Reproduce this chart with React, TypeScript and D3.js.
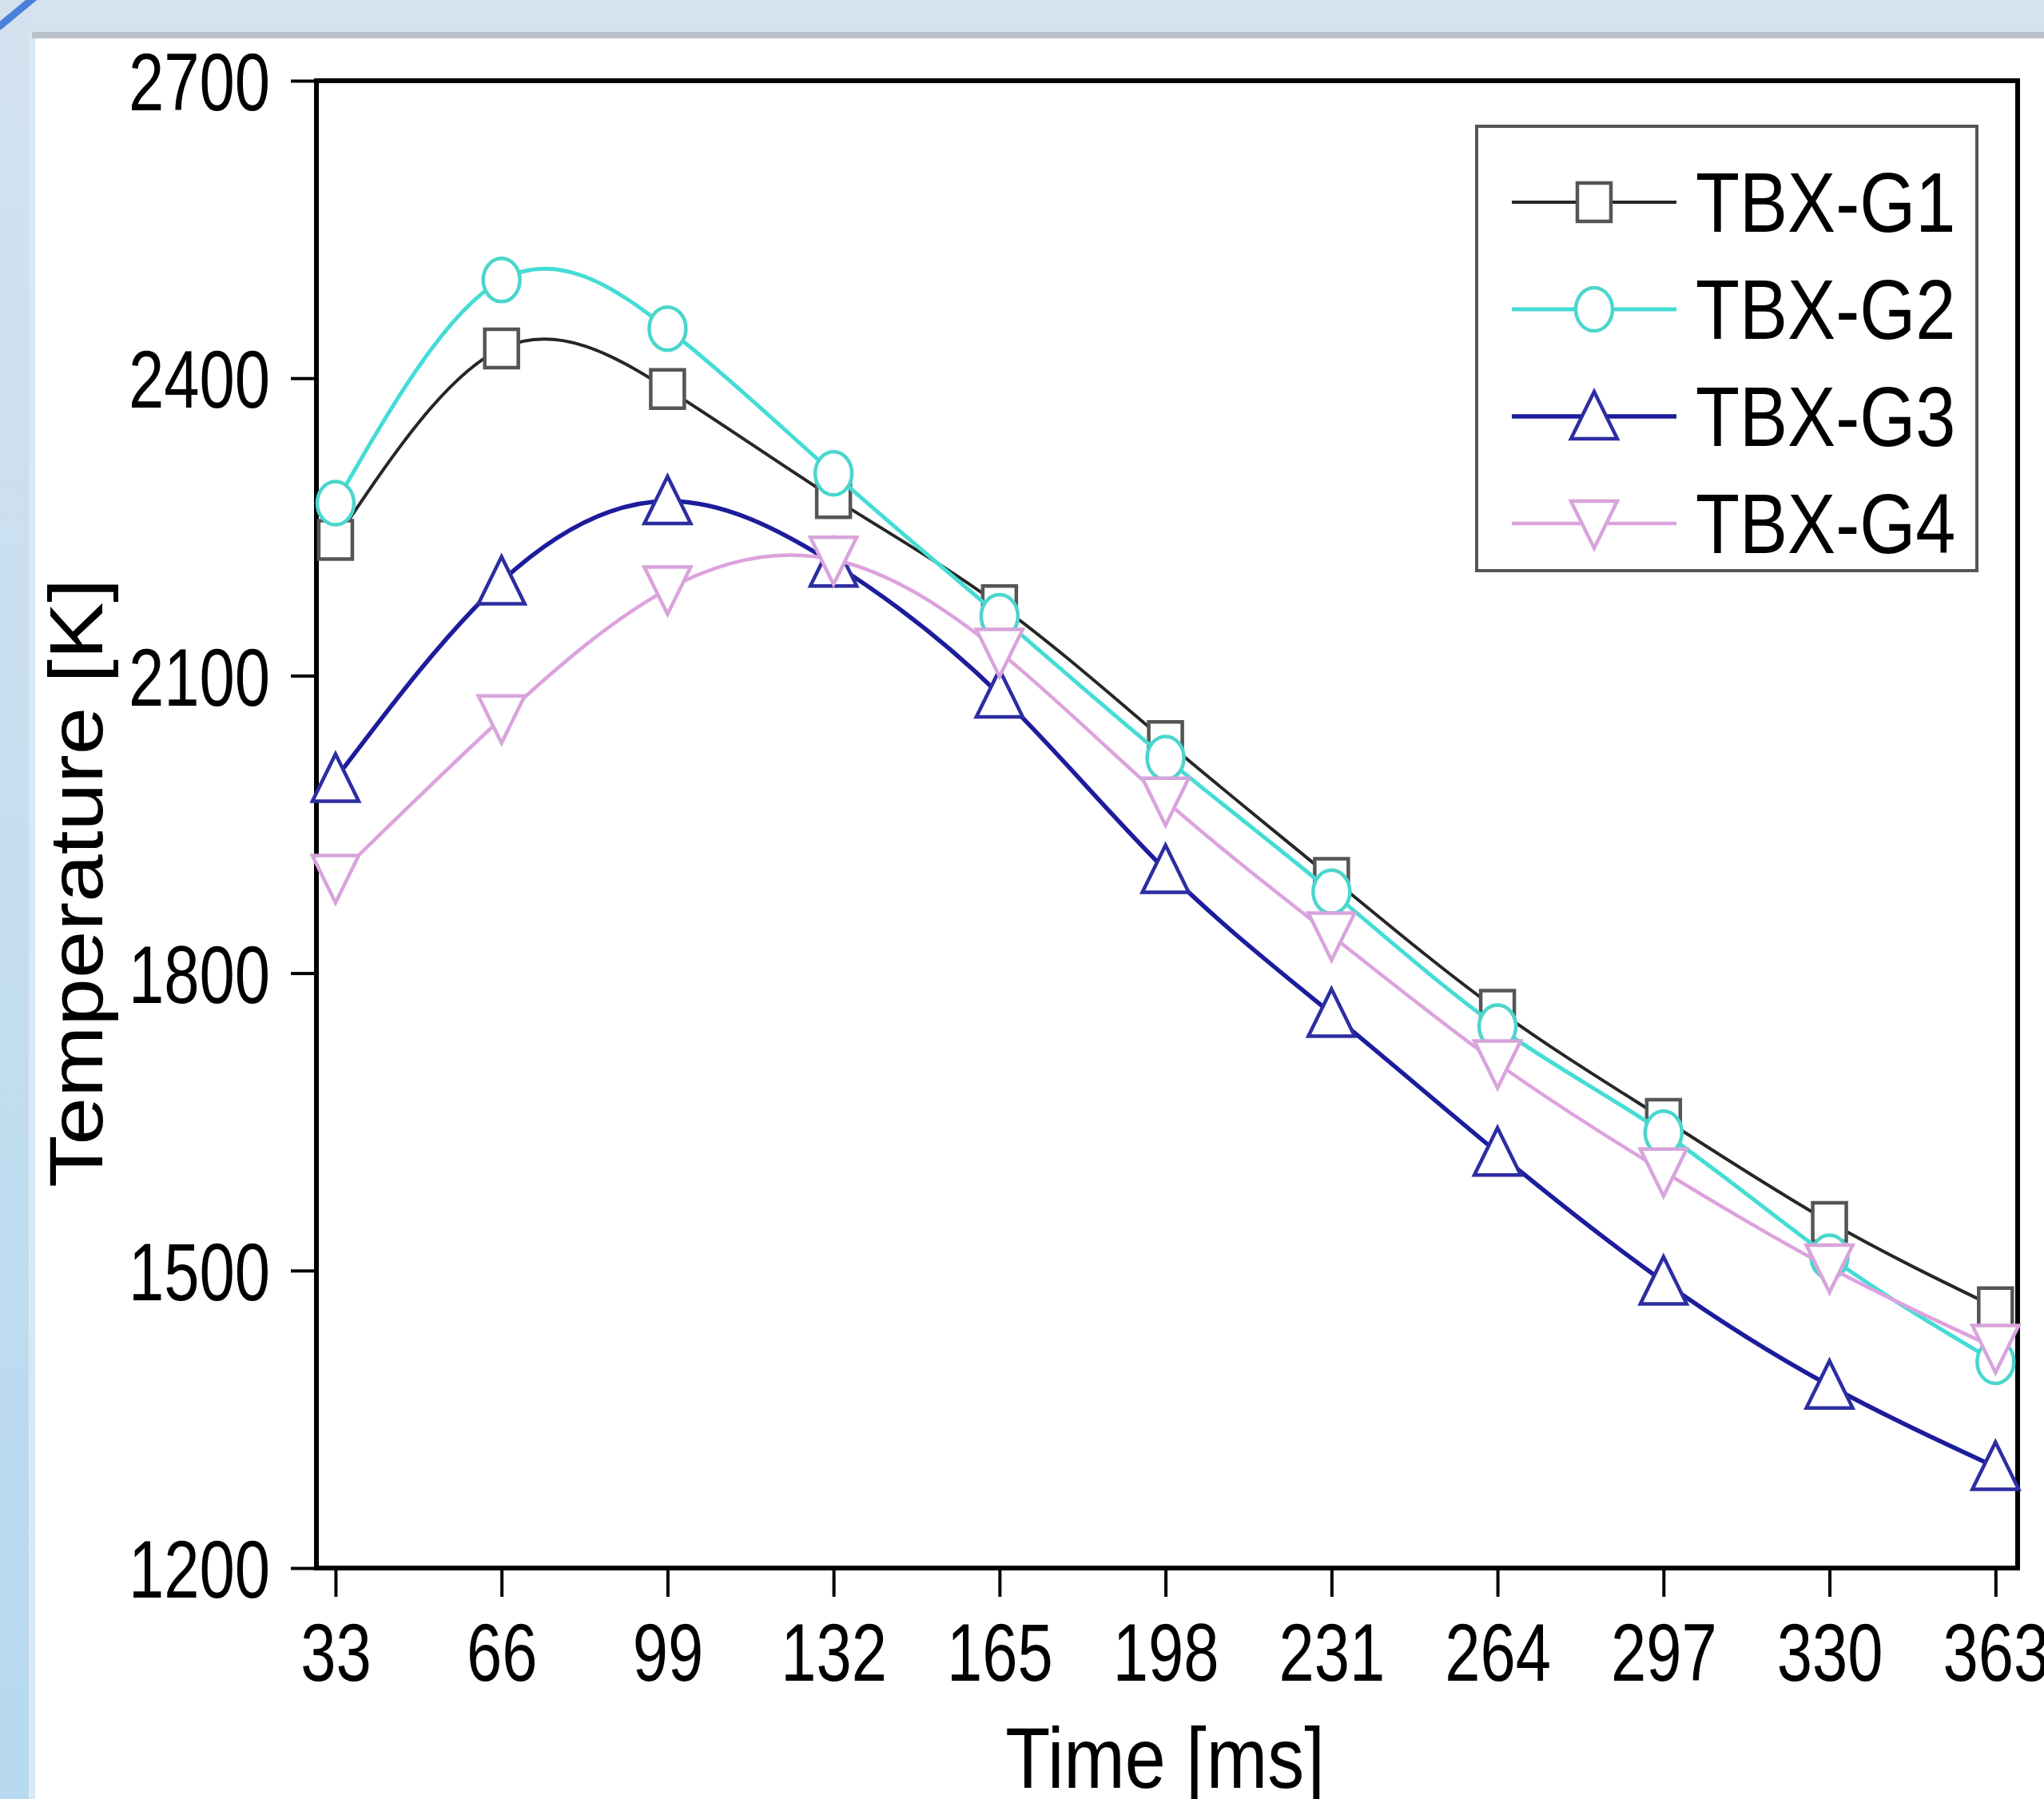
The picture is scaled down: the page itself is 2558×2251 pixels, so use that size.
import { useEffect, useRef } from 'react';
import * as d3 from 'd3';

const times = [33, 66, 99, 132, 165, 198, 231, 264, 297, 330, 363];
const tempG1 = [2237, 2430, 2389, 2279, 2171, 2034, 1896, 1763, 1653, 1549, 1463];
const tempG2 = [2274, 2499, 2450, 2304, 2160, 2017, 1882, 1746, 1639, 1514, 1408];
const tempG3 = [1996, 2195, 2276, 2213, 2081, 1904, 1759, 1619, 1489, 1384, 1302];
const tempG4 = [1896, 2057, 2187, 2217, 2124, 1974, 1838, 1709, 1600, 1503, 1422];
const seriesNames = ['TBX-G1', 'TBX-G2', 'TBX-G3', 'TBX-G4'];
const yTicks = [1200, 1500, 1800, 2100, 2400, 2700];

const W = 2558;
const H = 2251;
const FONT = "'Liberation Sans', Arial, sans-serif";

// drawing style per series
const styles = [
  { line: '#262626', mark: '#555555', lw: 4, shape: 'square' },
  { line: '#45dcd6', mark: '#4ad6cc', lw: 5, shape: 'circle' },
  { line: '#1c1c9c', mark: '#2d2da2', lw: 5.5, shape: 'up' },
  { line: '#dda2dd', mark: '#d8a4dc', lw: 4.5, shape: 'down' },
];

function markerPath(shape) {
  if (shape === 'square') return 'M-21,-24H21V24H-21Z';
  if (shape === 'circle') return 'M-23,0A23,27 0 1,0 23,0A23,27 0 1,0 -23,0Z';
  if (shape === 'up') return 'M0,-31L29,28H-29Z';
  return 'M0,31L29,-28H-29Z';
}

function App() {
  const svgRef = useRef(null);

  useEffect(() => {
    const svg = d3.select(svgRef.current);
    svg.selectAll('*').remove();

    // page background
    const defs = svg.append('defs');
    const grad = defs
      .append('linearGradient')
      .attr('id', 'leftStrip')
      .attr('x1', 0)
      .attr('y1', 0)
      .attr('x2', 0)
      .attr('y2', 1);
    grad.append('stop').attr('offset', '0%').attr('stop-color', '#d3e2ef');
    grad.append('stop').attr('offset', '100%').attr('stop-color', '#b6d9f0');

    svg.append('rect').attr('width', W).attr('height', H).attr('fill', '#d6e2ee');
    svg.append('rect').attr('x', 0).attr('y', 0).attr('width', 36).attr('height', H).attr('fill', 'url(#leftStrip)');
    svg.append('rect').attr('x', 36).attr('y', 40).attr('width', 8).attr('height', H).attr('fill', '#d9e8f3');
    svg.append('rect').attr('x', 40).attr('y', 40).attr('width', W).attr('height', 8).attr('fill', '#b9c1ca');
    svg.append('rect').attr('x', 44).attr('y', 48).attr('width', W).attr('height', H).attr('fill', '#ffffff');
    svg
      .append('line')
      .attr('x1', -2)
      .attr('y1', 34)
      .attr('x2', 44)
      .attr('y2', -4)
      .attr('stroke', '#4b80d8')
      .attr('stroke-width', 9);

    const x = d3.scaleLinear().domain([29.2, 367.4]).range([396, 2525]);
    const y = d3.scaleLinear().domain([1200, 2700]).range([1962, 101]);

    const series = [tempG1, tempG2, tempG3, tempG4];

    // x axis
    const xAxis = svg
      .append('g')
      .attr('transform', `translate(0,${y(1200)})`)
      .call(d3.axisBottom(x).tickValues(times).tickSize(36).tickSizeOuter(0).tickPadding(33).tickFormat(d3.format('d')));
    xAxis.select('.domain').remove();
    xAxis.selectAll('line').attr('stroke', '#000').attr('stroke-width', 4);
    xAxis
      .selectAll('text')
      .attr('fill', '#000')
      .style('font-family', FONT)
      .style('font-size', '102px')
      .attr('transform', 'scale(0.78,1)');

    // y axis
    const yAxis = svg
      .append('g')
      .attr('transform', `translate(${x.range()[0]},0)`)
      .call(d3.axisLeft(y).tickValues(yTicks).tickSize(32).tickSizeOuter(0).tickFormat(d3.format('d')));
    yAxis.select('.domain').remove();
    yAxis.selectAll('line').attr('stroke', '#000').attr('stroke-width', 4);
    yAxis
      .selectAll('text')
      .attr('fill', '#000')
      .attr('x', -58 / 0.78)
      .attr('dy', '0.36em')
      .style('font-family', FONT)
      .style('font-size', '102px')
      .attr('transform', 'scale(0.78,1)');

    // frame
    svg
      .append('rect')
      .attr('x', x.range()[0])
      .attr('y', y(2700))
      .attr('width', x.range()[1] - x.range()[0])
      .attr('height', y(1200) - y(2700))
      .attr('fill', 'none')
      .attr('stroke', '#000')
      .attr('stroke-width', 6);

    // lines + markers
    const line = d3
      .line()
      .x((d) => x(d[0]))
      .y((d) => y(d[1]))
      .curve(d3.curveNatural);

    series.forEach((vals, i) => {
      const st = styles[i];
      const pts = times.map((t, j) => [t, vals[j]]);
      svg
        .append('path')
        .datum(pts)
        .attr('d', line)
        .attr('fill', 'none')
        .attr('stroke', st.line)
        .attr('stroke-width', st.lw);
      svg
        .append('g')
        .selectAll('path')
        .data(pts)
        .enter()
        .append('path')
        .attr('transform', (d) => `translate(${x(d[0])},${y(d[1])})`)
        .attr('d', markerPath(st.shape))
        .attr('fill', '#fff')
        .attr('stroke', st.mark)
        .attr('stroke-width', 4.5);
    });

    // legend
    const legend = svg.append('g');
    legend
      .append('rect')
      .attr('x', 1848)
      .attr('y', 158)
      .attr('width', 626)
      .attr('height', 556)
      .attr('fill', '#fff')
      .attr('stroke', '#555')
      .attr('stroke-width', 4);
    seriesNames.forEach((name, i) => {
      const st = styles[i];
      const ly = 253 + i * 134;
      legend
        .append('line')
        .attr('x1', 1892)
        .attr('x2', 2098)
        .attr('y1', ly)
        .attr('y2', ly)
        .attr('stroke', st.line)
        .attr('stroke-width', st.lw);
      legend
        .append('path')
        .attr('transform', `translate(1995,${ly})`)
        .attr('d', markerPath(st.shape))
        .attr('fill', '#fff')
        .attr('stroke', st.mark)
        .attr('stroke-width', 4.5);
      legend
        .append('g')
        .attr('transform', `translate(2122,${ly + 37}) scale(0.85,1)`)
        .append('text')
        .style('font-family', FONT)
        .style('font-size', '106px')
        .attr('fill', '#000')
        .text(name);
    });

    // axis titles
    svg
      .append('g')
      .attr('transform', `translate(1458,2237) scale(0.85,1)`)
      .append('text')
      .attr('text-anchor', 'middle')
      .style('font-family', FONT)
      .style('font-size', '108px')
      .attr('fill', '#000')
      .text('Time [ms]');

    svg
      .append('g')
      .attr('transform', `translate(128,1105) rotate(-90) scale(1.14,1)`)
      .append('text')
      .attr('text-anchor', 'middle')
      .style('font-family', FONT)
      .style('font-size', '94px')
      .attr('fill', '#000')
      .text('Temperature [K]');
  }, []);

  return (
    <svg
      ref={svgRef}
      width={W}
      height={H}
      style={{ position: 'absolute', left: 0, top: 0, display: 'block' }}
    ></svg>
  );
}

export default App;
